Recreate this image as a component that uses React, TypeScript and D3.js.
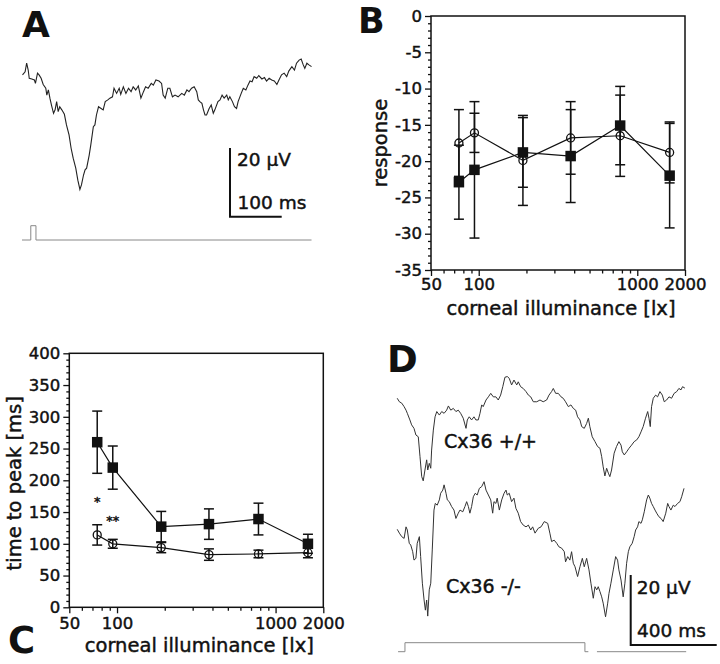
import React, { useRef, useEffect } from "react";
import * as d3 from "d3";

const FONT = "'DejaVu Sans', 'Liberation Sans', sans-serif";

// ---- panels B and C: corneal illuminance [lx]
const illuminance = [75, 94, 190, 380, 780, 1600];

// B: response amplitude (open circles / filled squares)
const respOpen = [-17.5, -16.1, -19.9, -16.8, -16.5, -18.8];
const respOpenErr = [4.6, 2.7, 6.2, 5.0, 5.6, 4.2];
const respFilled = [-22.9, -21.2, -18.8, -19.3, -15.1, -22.0];
const respFilledErr = [5.1, 9.4, 4.8, 6.4, 5.4, 7.2];

// C: time to peak [ms]
const peakOpen = [114, 100, 94, 83, 84, 86];
const peakOpenErr = [16, 7, 8, 9, 6, 8];
const peakFilled = [260, 220, 127, 131, 139, 100];
const peakFilledErr = [49, 34, 24, 24, 25, 15];
const stars = [
  { lx: 75, v: 172, label: "*" },
  { lx: 94, v: 142, label: "**" },
];

const xMajor = [50, 100, 1000, 2000];
const xMinor = [60, 70, 80, 90, 200, 300, 400, 500, 600, 700, 800, 900];

// ---- panel A: single ERG trace [ms, µV]
const traceA: [number, number][] = [
  [1,1.5],[6,2.4],[9,4.9],[12,2.9],[14,0.5],[19,0.3],[24,0],[26,-1.0],[30,2.0],[33,1.5],[37,0.5],[41,-1.3],
  [46,-2.4],[48,-4.4],[51,-2.9],[54,-5.3],[57,-7.3],[61,-9.7],[64,-8.7],[67,-6.3],[70,-9.2],[73,-7.8],[77,-8.7],
  [82,-10.0],[86,-13.1],[91,-16.0],[95,-19.9],[99,-22.8],[104,-25.7],[108,-29.2],[112,-31.9],[115,-30.6],
  [119,-27.7],[122,-26.2],[125,-25.7],[130,-21.9],[133,-19.0],[138,-13.6],[141,-13.1],[144,-10.2],[148,-7.8],
  [153,-8.3],[157,-8.7],[161,-6.3],[166,-5.8],[170,-5.3],[175,-4.9],[178,-2.4],[183,-3.9],[188,-2.4],[191,-4.2],
  [196,-2.0],[201,-3.9],[206,-2.4],[211,-3.4],[215,-2.0],[220,-2.9],[225,-1.7],[230,-5.3],[235,-3.4],[239,-2.0],
  [244,-2.4],[250,-1.0],[254,-1.5],[259,0],[265,-0.3],[270,-1.0],[273,-4.4],[277,-5.3],[282,-2.4],[286,-2.4],
  [291,-4.9],[296,-4.4],[302,-4.9],[309,-3.9],[314,-4.4],[319,-2.9],[323,-3.4],[328,-2.4],[333,-2.0],[338,-3.4],
  [341,-5.8],[344,-6.3],[348,-6.8],[351,-8.7],[354,-10.2],[357,-10.2],[362,-8.3],[366,-7.3],[370,-9.7],[373,-8.7],
  [379,-6.3],[383,-5.8],[387,-4.4],[391,-5.3],[396,-4.4],[399,-5.8],[402,-4.9],[407,-6.3],[411,-7.8],[415,-8.3],
  [418,-6.3],[424,-3.9],[428,-2.4],[433,-2.9],[437,-1.5],[441,-0.3],[445,-0.5],[449,1.0],[454,0.5],[458,1.3],
  [464,0.3],[469,0.7],[473,-0.3],[478,0.5],[483,0],[488,-0.3],[493,-1.3],[497,0],[502,1.5],[507,2.0],[512,1.0],
  [516,2.6],[522,3.9],[527,2.9],[531,4.9],[536,5.8],[540,6.1],[544,4.4],[547,3.4],[551,4.9],[555,4.4],[560,3.9],
];
// stimulus marker (0 = off, 1 = flash)
const stimA: [number, number][] = [[0,0],[17,0],[17,1],[27,1],[27,0],[560,0]];

// ---- panel D: Cx36 +/+ and -/- traces [ms, µV]
const traceWT: [number, number][] = [
  [1,0.5],[11,-0.5],[22,-0.9],[33,-1.9],[42,-2.9],[48,-3.8],[60,-5.7],[68,-7.1],[79,-8.1],[88,-10.0],[99,-10.5],
  [107,-16.2],[115,-21.9],[122,-23.1],[130,-20.0],[138,-17.1],[143,-20.0],[150,-18.1],[157,-19.5],[161,-14.3],
  [169,-8.6],[177,-4.8],[185,-3.3],[197,-4.3],[208,-3.3],[219,-3.8],[231,-2.9],[239,-1.7],[250,-2.9],[262,-2.4],
  [274,-3.3],[285,-2.9],[296,-3.8],[308,-5.2],[321,-8.1],[327,-5.7],[336,-4.8],[347,-5.7],[358,-4.8],[367,-5.7],
  [378,-5.7],[386,-3.8],[394,-1.4],[401,-1.9],[414,0],[425,0.9],[436,1.9],[448,0.9],[460,0.9],[471,0],[482,1.4],
  [492,3.8],[502,6.5],[513,6.7],[522,6.2],[533,4.3],[544,5.7],[557,4.3],[564,5.2],[575,3.8],[587,3.3],[600,2.4],
  [611,1.4],[622,0.9],[634,-0.5],[650,-0.5],[665,0],[680,-0.5],[696,0],[707,1.4],[719,2.4],[727,3.3],[738,1.9],
  [750,1.9],[763,0.9],[773,0.5],[784,-0.5],[797,-1.9],[809,-1.4],[820,-2.4],[831,-2.9],[840,-4.8],[851,-5.7],
  [859,-7.6],[871,-8.1],[882,-6.7],[890,-5.2],[897,-7.6],[908,-10.5],[921,-11.9],[933,-13.3],[944,-13.8],
  [952,-16.2],[959,-19.1],[967,-21.7],[975,-19.5],[983,-20.9],[990,-21.9],[998,-20.0],[1010,-15.2],[1021,-13.3],
  [1032,-11.9],[1042,-12.9],[1048,-14.8],[1057,-15.7],[1068,-14.8],[1079,-13.8],[1091,-12.9],[1103,-11.9],
  [1115,-11.4],[1125,-10.5],[1135,-9.1],[1145,-7.6],[1156,-5.2],[1166,-3.3],[1172,-5.2],[1178,-7.6],[1184,-1.9],
  [1192,0.5],[1203,1.4],[1212,0.9],[1223,2.4],[1234,1.4],[1243,-0.5],[1254,0],[1265,0.9],[1277,0.5],[1289,1.9],
  [1301,2.4],[1311,3.3],[1321,2.9],[1328,3.8],[1339,3.4],
];
const traceKO: [number, number][] = [
  [1,0.2],[11,-0.9],[22,-1.9],[33,-2.4],[42,0.9],[48,0],[57,-3.8],[64,-4.3],[73,-6.2],[79,-8.6],[88,-8.1],
  [94,-3.8],[104,-1.9],[110,-7.6],[118,-15.2],[126,-20.0],[132,-22.9],[138,-20.0],[143,-24.6],[150,-17.1],
  [157,-15.2],[164,-5.7],[172,5.7],[178,7.6],[187,7.1],[197,8.6],[203,10.5],[213,11.4],[219,12.9],[228,10.5],
  [234,8.6],[243,8.1],[254,6.7],[265,5.7],[274,3.3],[285,4.8],[293,5.7],[306,5.2],[316,6.7],[324,8.1],[332,6.7],
  [339,4.8],[347,6.7],[355,9.5],[364,10.5],[373,10.0],[383,11.9],[394,12.4],[405,13.8],[414,11.4],[425,10.0],
  [436,8.6],[445,4.8],[451,8.1],[460,7.6],[466,9.1],[476,5.7],[487,8.6],[498,10.5],[507,11.4],[513,10.0],
  [522,10.5],[533,8.1],[544,9.1],[553,6.2],[564,4.8],[575,2.4],[587,1.4],[600,0.9],[611,1.4],[622,0],[631,0.9],
  [642,-0.9],[657,0.5],[670,0.9],[685,2.4],[701,1.9],[711,-0.9],[719,-3.3],[731,-2.9],[743,-3.8],[753,-4.8],
  [766,-5.2],[778,-6.2],[784,-9.1],[794,-7.6],[804,-8.6],[812,-6.2],[820,-9.5],[828,-10.5],[840,-13.3],
  [851,-10.5],[862,-8.1],[871,-10.5],[882,-8.1],[893,-11.4],[902,-15.2],[913,-19.5],[921,-16.2],[929,-17.1],
  [936,-16.2],[944,-17.6],[952,-19.1],[959,-20.9],[970,-24.8],[980,-20.9],[986,-18.1],[995,-15.2],[1006,-11.4],
  [1017,-7.6],[1026,-8.6],[1032,-11.4],[1042,-14.3],[1052,-19.1],[1060,-15.2],[1068,-9.5],[1076,-6.2],
  [1083,-4.8],[1094,-3.8],[1103,-1.9],[1110,0],[1119,0.9],[1125,2.4],[1135,1.9],[1141,2.9],[1150,5.2],
  [1161,8.6],[1169,10.0],[1176,9.1],[1184,7.6],[1192,6.7],[1200,5.7],[1208,4.8],[1218,3.8],[1228,3.3],
  [1238,2.4],[1250,4.8],[1259,7.6],[1265,6.7],[1274,5.7],[1285,7.1],[1293,6.7],[1305,7.6],[1316,8.1],
  [1324,9.5],[1335,11.9],
];
const stimD1: [number, number][] = [[5,0],[37,0],[37,1],[874,1],[874,0],[890,0]];
const stimD2: [number, number][] = [[930,0],[1345,0]];

const INK = "#111";

type Box = { left: number; right: number; top: number; bottom: number };

// scanned type looks heavier than DejaVu regular, so give text a thin outline
const heavy = (sel: any, w = 0.45) => sel.attr("stroke", INK).attr("stroke-width", w);

function drawFrame(g: any, x: any, y: any, box: Box, yMajor: number[], yMinor: number[], xPad: number) {
  g.append("rect")
    .attr("x", box.left).attr("y", box.top)
    .attr("width", box.right - box.left).attr("height", box.bottom - box.top)
    .attr("fill", "none").attr("stroke", INK).attr("stroke-width", 1.5);

  const styleAxis = (a: any) => {
    a.select(".domain").remove();
    a.selectAll("line").attr("stroke", INK).attr("stroke-width", 1.3);
    heavy(a.selectAll("text").attr("font-family", FONT).attr("font-size", 16.5).attr("fill", INK));
  };

  const ya = g.append("g").attr("transform", `translate(${box.left},0)`)
    .call(d3.axisLeft(y).tickValues(yMajor).tickSize(6).tickPadding(3).tickFormat((d: any) => String(d)));
  styleAxis(ya);
  const ym = g.append("g").attr("transform", `translate(${box.left},0)`)
    .call(d3.axisLeft(y).tickValues(yMinor).tickSize(3).tickFormat(() => ""));
  styleAxis(ym);

  const xa = g.append("g").attr("transform", `translate(0,${box.bottom})`)
    .call(d3.axisBottom(x).tickValues(xMajor).tickSize(6).tickPadding(xPad).tickFormat((d: any) => String(d)));
  styleAxis(xa);
  const xm = g.append("g").attr("transform", `translate(0,${box.bottom})`)
    .call(d3.axisBottom(x).tickValues(xMinor).tickSize(3.5).tickFormat(() => ""));
  styleAxis(xm);
}

function drawSeries(g: any, x: any, y: any, vals: number[], errs: number[], filled: boolean) {
  const line = d3.line<number>().x((_, i) => x(illuminance[i])).y((d) => y(d));
  g.append("path").datum(vals).attr("d", line)
    .attr("fill", "none").attr("stroke", INK).attr("stroke-width", 1.2);

  const eb = g.append("g").attr("stroke", INK).attr("stroke-width", 1.5);
  vals.forEach((v, i) => {
    const cx = x(illuminance[i]);
    const t = y(v + errs[i]);
    const b = y(v - errs[i]);
    eb.append("line").attr("x1", cx).attr("x2", cx).attr("y1", t).attr("y2", b);
    eb.append("line").attr("x1", cx - 5).attr("x2", cx + 5).attr("y1", t).attr("y2", t);
    eb.append("line").attr("x1", cx - 5).attr("x2", cx + 5).attr("y1", b).attr("y2", b);
  });

  if (filled) {
    const s = 10.5;
    g.selectAll(null).data(vals).enter().append("rect")
      .attr("x", (_: any, i: number) => x(illuminance[i]) - s / 2)
      .attr("y", (d: number) => y(d) - s / 2)
      .attr("width", s).attr("height", s).attr("fill", INK);
  } else {
    g.selectAll(null).data(vals).enter().append("circle")
      .attr("cx", (_: any, i: number) => x(illuminance[i]))
      .attr("cy", (d: number) => y(d))
      .attr("r", 4).attr("fill", "none").attr("stroke", INK).attr("stroke-width", 1.3);
  }
}

function label(g: any, txt: string, x: number, y: number, size: number, opts: any = {}) {
  const t = g.append("text").attr("x", x).attr("y", y)
    .attr("font-family", FONT).attr("font-size", size).attr("fill", INK).text(txt);
  if (opts.anchor) t.attr("text-anchor", opts.anchor);
  if (opts.bold) t.attr("font-weight", "bold");
  else heavy(t);
  if (opts.rotate) t.attr("transform", `rotate(-90,${x},${y})`);
  return t;
}

export default function App() {
  const svgRef = useRef<SVGSVGElement>(null);

  useEffect(() => {
    const svg = d3.select(svgRef.current);
    svg.selectAll("*").remove();
    const g = svg.append("g");

    // ---------- A ----------
    const xA = d3.scaleLinear().domain([0, 100]).range([22, 73.7]);
    const yA = d3.scaleLinear().domain([0, 20]).range([80, 11.4]);
    const yStimA = d3.scaleLinear().domain([0, 1]).range([240, 225.7]);
    const lineA = d3.line<[number, number]>().x((d) => xA(d[0])).y((d) => yA(d[1]));
    g.append("path").datum(traceA).attr("d", lineA)
      .attr("fill", "none").attr("stroke", "#222").attr("stroke-width", 1.1);
    const stimLineA = d3.line<[number, number]>().x((d) => xA(d[0])).y((d) => yStimA(d[1]));
    g.append("path").datum(stimA).attr("d", stimLineA)
      .attr("fill", "none").attr("stroke", "#888").attr("stroke-width", 1);

    // scale bar A
    const sbAx = 230, sbAy = 216.7;
    const lenA_ms = xA(100) - xA(0);
    const lenA_uv = yA(0) - yA(20);
    g.append("path")
      .attr("d", `M${sbAx},${sbAy - lenA_uv}V${sbAy}H${sbAx + lenA_ms}`)
      .attr("fill", "none").attr("stroke", INK).attr("stroke-width", 2);
    label(g, "20 \u00b5V", 237, 165.5, 18.5);
    label(g, "100 ms", 237.5, 208.5, 18.5);

    label(g, "A", 22, 36.7, 36, { bold: true });

    // ---------- B ----------
    const boxB = { left: 431, right: 685, top: 16, bottom: 270 };
    const xB = d3.scaleLog().domain([50, 2000]).range([boxB.left, boxB.right]);
    const yB = d3.scaleLinear().domain([-35, 0]).range([boxB.bottom, boxB.top]);
    drawFrame(g, xB, yB, boxB, d3.range(-35, 1, 5), d3.range(-35, 1, 1).filter((v) => v % 5 !== 0), 2);
    drawSeries(g, xB, yB, respOpen, respOpenErr, false);
    drawSeries(g, xB, yB, respFilled, respFilledErr, true);
    label(g, "corneal illuminance [lx]", (boxB.left + boxB.right) / 2 + 3, 315, 19.5, { anchor: "middle" });
    label(g, "response", boxB.left - 44, (boxB.top + boxB.bottom) / 2, 19.5, { anchor: "middle", rotate: true });
    label(g, "B", 358, 32.5, 35, { bold: true });

    // ---------- C ----------
    const boxC = { left: 69.3, right: 323.3, top: 353.3, bottom: 607.3 };
    const xC = d3.scaleLog().domain([50, 2000]).range([boxC.left, boxC.right]);
    const yC = d3.scaleLinear().domain([0, 400]).range([boxC.bottom, boxC.top]);
    drawFrame(g, xC, yC, boxC, d3.range(0, 401, 50), d3.range(0, 401, 10).filter((v) => v % 50 !== 0), 4);
    drawSeries(g, xC, yC, peakOpen, peakOpenErr, false);
    drawSeries(g, xC, yC, peakFilled, peakFilledErr, true);
    stars.forEach((s) => label(g, s.label, xC(s.lx), yC(s.v) + 8, 13, { anchor: "middle" }));
    label(g, "corneal illuminance [lx]", (boxC.left + boxC.right) / 2 + 3, 652, 19.5, { anchor: "middle" });
    label(g, "time to peak [ms]", boxC.left - 48, (boxC.top + boxC.bottom) / 2 + 3, 19.5, { anchor: "middle", rotate: true });
    label(g, "C", 8, 653, 37, { bold: true });

    // ---------- D ----------
    const xD = d3.scaleLinear().domain([0, 400]).range([397, 483]);
    const yWT = d3.scaleLinear().domain([0, 20]).range([400, 330]);
    const yKO = d3.scaleLinear().domain([0, 20]).range([530, 460]);
    const yStimD = d3.scaleLinear().domain([0, 1]).range([651.7, 642.7]);
    const mk = (ys: any) => d3.line<[number, number]>().x((d) => xD(d[0])).y((d) => ys(d[1]));
    g.append("path").datum(traceWT).attr("d", mk(yWT))
      .attr("fill", "none").attr("stroke", "#333").attr("stroke-width", 1);
    g.append("path").datum(traceKO).attr("d", mk(yKO))
      .attr("fill", "none").attr("stroke", "#333").attr("stroke-width", 1);
    [stimD1, stimD2].forEach((s) =>
      g.append("path").datum(s).attr("d", mk(yStimD))
        .attr("fill", "none").attr("stroke", "#888").attr("stroke-width", 1)
    );
    label(g, "Cx36 +/+", 444, 448.3, 19);
    label(g, "Cx36 -/-", 446, 593.3, 19);

    const sbDx = 630.7, sbDy = 645;
    const lenD_ms = xD(400) - xD(0);
    const lenD_uv = yKO(0) - yKO(20);
    g.append("path")
      .attr("d", `M${sbDx},${sbDy - lenD_uv}V${sbDy}H${sbDx + lenD_ms}`)
      .attr("fill", "none").attr("stroke", INK).attr("stroke-width", 2);
    label(g, "20 \u00b5V", 636.7, 594, 18.5);
    label(g, "400 ms", 637, 637, 18.5);
    label(g, "D", 387, 371.7, 37, { bold: true });
  }, []);

  return (
    <svg
      ref={svgRef}
      width={720}
      height={664}
      style={{ position: "absolute", left: 0, top: 0, background: "#fff" }}
    />
  );
}
